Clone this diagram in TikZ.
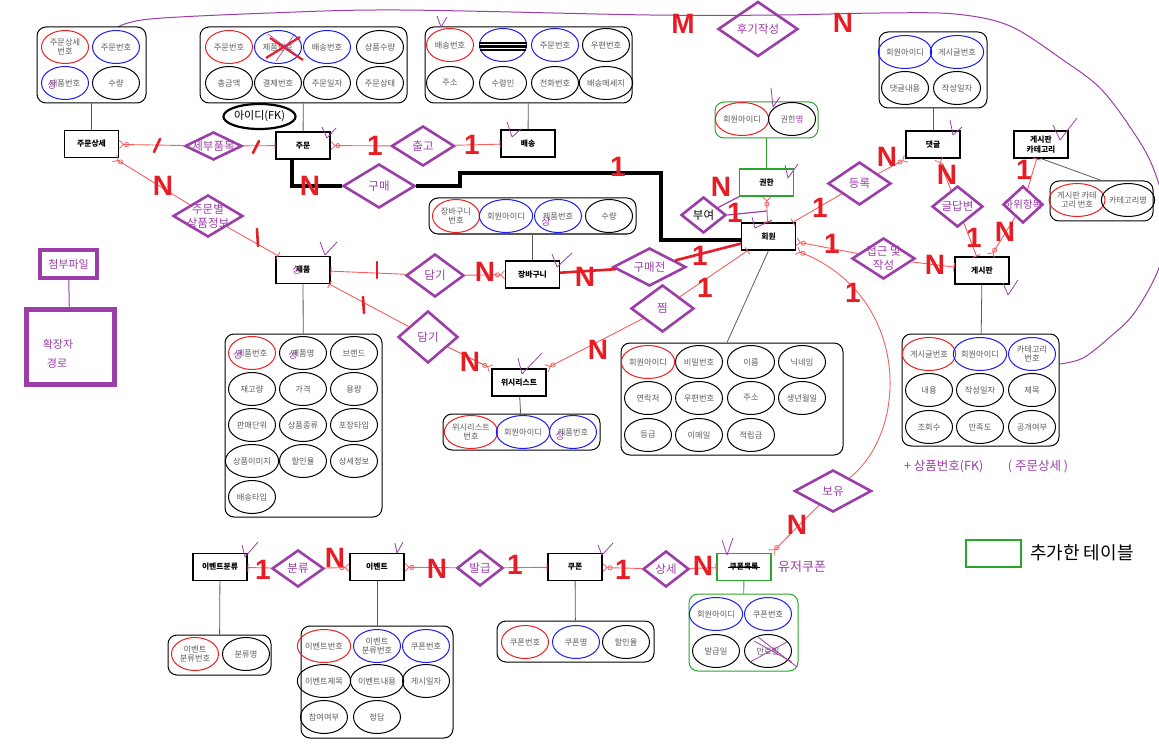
\documentclass[tikz,border=0pt]{standalone}
\usepackage{fontspec}
\setmainfont{Noto Sans CJK KR}
\newfontfamily\cardfont{Liberation Sans}
\usetikzlibrary{shapes.geometric,arrows.meta}
\definecolor{dpurple}{RGB}{155,62,168}
\definecolor{lred}{RGB}{242,96,96}
\definecolor{bred}{RGB}{232,28,36}
\definecolor{ered}{RGB}{236,32,32}
\definecolor{eblue}{RGB}{28,28,236}
\definecolor{dgreen}{RGB}{44,165,44}
\definecolor{agray}{RGB}{92,92,92}
\definecolor{lgray}{RGB}{90,90,90}
\tikzset{
  ent/.style={draw=black, line width=1.1pt, fill=white, minimum width=54pt, minimum height=27pt, inner sep=1pt, align=center, font=\fontsize{7.8}{9.2}\selectfont\bfseries},
  abox/.style={draw=black, line width=1pt, rounded corners=9pt, inner sep=0pt},
  att/.style={ellipse, draw=black, line width=1pt, minimum width=47pt, minimum height=33pt, inner sep=0pt, align=center, text=agray, font=\fontsize{8.2}{9.4}\selectfont},
  rdia/.style={diamond, draw=dpurple, line width=2.6pt, inner sep=0pt},
  rtext/.style={text=dpurple, align=center, inner sep=0pt, font=\fontsize{11.5}{14}\selectfont},
  cardn/.style={text=bred, inner sep=0pt, font=\cardfont\fontsize{28}{28}\selectfont\bfseries},
  rl/.style={draw=lred, line width=0.9pt},
  many/.style={-{Circle[open,length=5pt,width=5pt,line width=0.8pt] Straight Barb[reversed,length=4pt,width=8pt,line width=0.8pt]}},
  one/.style={-{Bar[width=8pt,line width=0.9pt]}},
  al/.style={draw=lgray, line width=0.8pt},
  pl/.style={draw=dpurple, line width=1pt},
  chk/.style={draw=dpurple, line width=0.8pt, line join=round},
  ov/.style={text=dpurple, inner sep=0pt, font=\fontsize{10}{10}\selectfont},
  buyline/.style={draw=black, line width=4pt},
  thickred/.style={draw=bred, line width=2.6pt},
  slashmark/.style={draw=bred, line width=2.6pt, line cap=round},
}
\newcommand\myatt[5]{\node[att,draw=#4] (#1) at (#2,#3) {#5};}
\newcommand\myrel[6]{\node[rdia,minimum width=#4pt,minimum height=#5pt] (#1) at (#2,#3) {};\node[rtext] (#1t) at (#2,#3) {#6};}
\newcommand\mycard[4]{\node[cardn] (#1) at (#2,#3) {#4};}
\begin{document}
\begin{tikzpicture}[x=1pt,y=-1pt]
\useasboundingbox (0,0) rectangle (1159,746);
\fill[white] (0,0) rectangle (1159,746);

% big purple curve
\draw[pl] plot[smooth,tension=0.55] coordinates {(118,27) (150,19) (270,13) (400,10) (650,15) (780,15) (880,13) (955,14) (1010,26) (1063,60) (1100,88) (1130,127) (1152,165) (1166,215) (1160,265) (1135,312) (1110,337) (1083,358) (1060,364)};

% attribute boxes
\node[abox,minimum width=109pt,minimum height=76pt] (jsA) at (91.5,65) {};
\node[abox,minimum width=207pt,minimum height=76pt] (jmA) at (303.5,65) {};
\node[abox,minimum width=207pt,minimum height=76pt] (bsA) at (528.5,65) {};
\node[abox,draw=dgreen,minimum width=103pt,minimum height=36pt] (ghA) at (766.5,120) {};
\node[abox,minimum width=108pt,minimum height=76pt] (dgA) at (933,70) {};
\node[abox,minimum width=103pt,minimum height=40pt] (gcA) at (1101.5,201) {};
\node[abox,minimum width=157pt,minimum height=112pt] (gsA) at (980.5,390) {};
\node[abox,minimum width=157pt,minimum height=183pt] (jpA) at (303.5,425.5) {};
\node[abox,minimum width=207pt,minimum height=36pt] (jbA) at (532.5,216) {};
\node[abox,minimum width=157pt,minimum height=36pt] (wlA) at (521.5,432) {};
\node[abox,minimum width=222pt,minimum height=112pt] (hwA) at (732,399) {};
\node[abox,minimum width=103pt,minimum height=40pt] (ecA) at (219.5,655) {};
\node[abox,minimum width=152pt,minimum height=112pt] (evA) at (377,682) {};
\node[abox,minimum width=157pt,minimum height=41pt] (cpA) at (575.5,641.5) {};
\node[abox,draw=dgreen,minimum width=109pt,minimum height=77pt] (clA) at (743.5,632.5) {};

% attributes
\myatt{a1}{65}{47}{ered}{주문상세\\번호}
\myatt{a2}{116}{47}{eblue}{주문번호}
\myatt{a3}{65}{83}{eblue}{제품번호}
\myatt{a4}{116}{83}{black}{수량}

\myatt{b1}{229}{47}{ered}{주문번호}
\myatt{b2}{278}{47}{eblue}{제품번호}
\myatt{b3}{327}{47}{eblue}{배송번호}
\myatt{b4}{380}{47}{black}{상품수량}
\myatt{b5}{229}{83}{black}{총금액}
\myatt{b6}{278}{83}{black}{결제번호}
\myatt{b7}{327}{83}{black}{주문일자}
\myatt{b8}{380}{83}{black}{주문상태}

\myatt{c1}{450}{45}{ered}{배송번호}
\myatt{c2}{503}{45}{eblue}{}
\myatt{c3}{555}{45}{eblue}{주문번호}
\myatt{c4}{606}{45}{black}{우편번호}
\myatt{c5}{450}{83}{black}{주소}
\myatt{c6}{503}{83}{black}{수령인}
\myatt{c7}{555}{83}{black}{전화번호}
\myatt{c8}{606}{83}{black}{배송메세지}

\myatt{d1}{742}{119}{ered}{회원아이디}
\myatt{d2}{792}{119}{black}{권한{\color{dpurple}명}}

\myatt{f1}{905}{52}{eblue}{회원아이디}
\myatt{f2}{957}{52}{eblue}{게시글번호}
\myatt{f3}{905}{88}{black}{댓글내용}
\myatt{f4}{957}{88}{black}{작성일자}

\myatt{g1}{1077}{200}{ered}{게시판 카테\\고리 번호}
\myatt{g2}{1128}{200}{black}{카테고리명}

\myatt{h1}{929}{354}{ered}{게시글번호}
\myatt{h2}{980}{354}{eblue}{회원아이디}
\myatt{h3}{1032}{354}{eblue}{카테고리\\번호}
\myatt{h4}{929}{390}{black}{내용}
\myatt{h5}{980}{390}{black}{작성일자}
\myatt{h6}{1032}{390}{black}{제목}
\myatt{h7}{929}{427}{black}{조회수}
\myatt{h8}{980}{427}{black}{만족도}
\myatt{h9}{1032}{427}{black}{공개여부}

\myatt{i1}{252}{353}{ered}{제품번호}
\myatt{i2}{303}{353}{black}{제품명}
\myatt{i3}{354}{353}{black}{브랜드}
\myatt{i4}{252}{389}{black}{재고량}
\myatt{i5}{303}{389}{black}{가격}
\myatt{i6}{354}{389}{black}{용량}
\myatt{i7}{252}{425}{black}{판매단위}
\myatt{i8}{303}{425}{black}{상품종류}
\myatt{i9}{354}{425}{black}{포장타입}
\myatt{i10}{252}{461}{black}{상품이미지}
\myatt{i11}{303}{461}{black}{할인율}
\myatt{i12}{354}{461}{black}{상세정보}
\myatt{i13}{252}{497}{black}{배송타입}

\myatt{j1}{456}{216}{ered}{장바구니\\번호}
\myatt{j2}{506}{216}{eblue}{회원아이디}
\myatt{j3}{558}{216}{eblue}{제품번호}
\myatt{j4}{609}{216}{black}{수량}

\myatt{k1}{471}{432}{ered}{위시리스트\\번호}
\myatt{k2}{523}{432}{eblue}{회원아이디}
\myatt{k3}{573}{432}{eblue}{제품번호}

\myatt{m1}{648}{362}{ered}{회원아이디}
\myatt{m2}{699}{362}{black}{비밀번호}
\myatt{m3}{751}{362}{black}{이름}
\myatt{m4}{802}{362}{black}{닉네임}
\myatt{m5}{648}{398}{black}{연락처}
\myatt{m6}{699}{398}{black}{우편번호}
\myatt{m7}{751}{398}{black}{주소}
\myatt{m8}{802}{398}{black}{생년월일}
\myatt{m9}{648}{435}{black}{등급}
\myatt{m10}{699}{435}{black}{이메일}
\myatt{m11}{751}{435}{black}{적립금}

\myatt{n1}{195}{654}{ered}{이벤트\\분류번호}
\myatt{n2}{246}{654}{black}{분류명}

\myatt{p1}{324}{646}{ered}{이벤트번호}
\myatt{p2}{377}{646}{eblue}{이벤트\\분류번호}
\myatt{p3}{426}{646}{eblue}{쿠폰번호}
\myatt{p4}{324}{681}{black}{이벤트제목}
\myatt{p5}{377}{681}{black}{이벤트내용}
\myatt{p6}{426}{681}{black}{게시일자}
\myatt{p7}{324}{717}{black}{참여여부}
\myatt{p8}{377}{717}{black}{정답}

\myatt{q1}{525}{642}{ered}{쿠폰번호}
\myatt{q2}{576}{642}{eblue}{쿠폰명}
\myatt{q3}{626}{642}{black}{할인율}

\myatt{r1}{716}{614}{eblue}{회원아이디}
\myatt{r2}{768}{614}{eblue}{쿠폰번호}
\myatt{r3}{716}{651}{black}{발급일}
\myatt{r4}{768}{651}{black}{만료일}

% scribbles and crossings
\draw[bred, line width=2.2pt] (266,58) -- (300,37);
\draw[bred, line width=2.2pt] (270,38) -- (303,60);
\draw[dpurple, line width=0.6pt] (268,34) -- (298,56);
\draw[dpurple, line width=0.6pt] (276,61) -- (294,35);
\draw[black, line width=2.2pt] (479,43) -- (527,43);
\draw[black, line width=2.2pt] (479,46.5) -- (527,46.5);
\draw[black, line width=2pt] (480,50) -- (526,50);
\draw[dpurple, line width=0.8pt] (750,662) -- (787,642);
\draw[dpurple, line width=0.8pt] (758,637) -- (797,667);
\draw[dpurple, line width=0.8pt] (754,641) -- (792,662);

% purple overlays
\node[ov] (ov1) at (52,85) {상};
\node[ov] (ov3) at (238,355) {상};
\node[ov] (ov4) at (293,355) {상};
\node[ov] (ov5) at (546,222) {상};
\node[ov] (ov6) at (560,436) {상};

% entities
\node[ent] (jsang) at (91.5,144) {주문상세};
\node[ent] (jm) at (303,145.5) {주문};
\node[ent] (bs) at (528,143.5) {배송};
\node[ent,draw=dgreen] (gh) at (766.5,182.5) {권한};
\node[ent] (hw) at (768.5,236.5) {회원};
\node[ent] (dg) at (933,144.5) {댓글};
\node[ent] (gc) at (1041,144.5) {게시판\\카테고리};
\node[ent] (gs) at (982,270.5) {게시판};
\node[ent] (jp) at (303,270) {제품};
\node[ent] (jb) at (532.5,274.5) {장바구니};
\node[ent] (wl) at (519,382.5) {위시리스트};
\node[ent] (ec) at (220,567) {이벤트분류};
\node[ent] (ev) at (377,567) {이벤트};
\node[ent] (cp) at (575,567) {쿠폰};
\node[ent,draw=dgreen] (cl) at (744,567) {쿠폰목록};
\draw[line width=0.8pt] ([xshift=-16pt]cl.center) -- ([xshift=16pt]cl.center);
\node[ov] (ov2) at (297,270) {상};

% entity to attribute lines
\draw[al] (jsang) -- (jsA);
\draw[al] (jm) -- (jmA);
\draw[al] (bs) -- (bsA);
\draw[al, draw=dgreen] (gh) -- (ghA);
\draw[al] (dg) -- (dgA);
\draw[al] (gc.south) -- (gcA.north);
\draw[al] (gs) -- (gsA);
\draw[al] (jp) -- (jpA);
\draw[al] (jb) -- (jbA);
\draw[al] (wl) -- (wlA);
\draw[al] (hw.south) -- ([xshift=-5pt]hwA.north);
\draw[al] (ec) -- (ecA);
\draw[al] (ev) -- (evA);
\draw[al] (cp) -- (cpA);
\draw[al, draw=dgreen] (cl) -- (clA);

% FK ellipse
\node[ellipse, draw=black, line width=2.2pt, minimum width=55pt, minimum height=25pt, inner sep=0pt, font=\fontsize{11}{12}\selectfont] (fkid) at (259.5,116.5) {아이디(FK)};

% relationships
\myrel{sb}{213.5}{146}{57}{28}{세부품목}
\myrel{cg}{423}{146}{63}{40}{출고}
\myrel{gm}{379}{186}{72}{44}{구매}
\myrel{jsp}{208}{216}{70}{42}{주문별\\상품정보}
\myrel{hg}{758}{29}{80}{55}{후기작성}
\node[rdia,minimum width=45pt,minimum height=36pt] (by) at (703.5,215) {};
\node[rtext,text=black] (byt) at (703.5,215) {부여};
\myrel{dr}{859.5}{183.5}{63}{43}{등록}
\myrel{gd}{957.5}{206.5}{51}{41}{글답변}
\myrel{hwi}{1023}{204.5}{40}{37}{{\fontsize{10.5}{12}\selectfont 하위항목}}
\myrel{jg}{883.5}{258.5}{63}{41}{접근 및\\작성}
\myrel{dma}{435}{275.5}{58}{43}{담기}
\myrel{gmj}{649.5}{267}{73}{38}{구매전}
\myrel{dmb}{428}{337}{60}{52}{담기}
\myrel{jjim}{662.5}{308.5}{63}{47}{찜}
\myrel{boyu}{833}{491}{77}{42}{보유}
\myrel{bl}{298}{568.5}{52}{37}{분류}
\myrel{bg}{480}{568}{46}{36}{발급}
\myrel{ss}{666}{569}{46}{36}{상세}

\coordinate (byj) at (767,211);

% connectors
\draw[rl, many] (sb) -- (jsang);
\draw[rl, one] (sb) -- (jm);
\draw[rl, many] (jsp) -- (jsang);
\draw[rl, one] (jsp) -- (jp);
\draw[rl, many] (cg) -- (jm);
\draw[rl, one] (cg) -- (bs);
\draw[buyline] ([xshift=-11pt]jm.south) |- (gm.west);
\draw[buyline] (gm.east) -- (460,186) |- (661,173) |- ([yshift=-3pt]hw.west);
\draw[rl, many] (byj) -- (gh);
\draw[rl, one] (byj) -- (hw);
\draw[pl, line width=1.2pt] (by) -- (gh);
\draw[pl, line width=1.2pt] (by.east) -- (byj);
\draw[rl, many] (dr) -- (dg);
\draw[rl, one] (dr) -- (hw);
\draw[rl, many] (gd) -- (dg);
\draw[rl, one] (gd) -- (gs);
\draw[rl, one] (hwi) -- (gc);
\draw[rl, many] (hwi) -- (gs);
\draw[rl, many] (jg) -- (hw);
\draw[rl, one] (jg) -- (gs);
\draw[rl, many] (boyu) .. controls (910,430) and (910,295) .. (hw.south east);
\draw[rl, many] (boyu) -- (cl.north east);
\draw[rl, one] (dma) -- (jp);
\draw[rl, many] (dma) -- (jb);
\draw[thickred] (gmj) -- (jb);
\draw[thickred] (gmj) -- (hw);
\draw[rl, one] (dmb) -- (jp);
\draw[rl, many] (dmb) -- (wl);
\draw[rl, many] (jjim) -- (wl);
\draw[rl, one] (jjim) -- (hw);
\draw[rl, one] (bl) -- (ec);
\draw[rl, many] (bl) -- (ev);
\draw[rl, many] (bg) -- (ev);
\draw[rl, one] (bg) -- (cp);
\draw[rl, many] (ss) -- (cp);
\draw[rl, one] (ss) -- (cl);

% cardinality marks
\draw[slashmark] (154,152) -- (160,139);
\draw[slashmark] (253,153) -- (259,141);
\draw[slashmark] (257,229) -- (258,246);
\draw[slashmark] (377,262) -- (377,278);
\draw[slashmark] (363,297) -- (364,313);
\mycard{cd1}{163}{186}{N}
\mycard{cd2}{375}{146}{1}
\mycard{cd3}{472}{145}{1}
\mycard{cd4}{310}{186}{N}
\mycard{cd5}{618}{167}{1}
\mycard{cd6}{683}{24}{M}
\mycard{cd7}{843}{23}{N}
\mycard{cd8}{721}{187}{N}
\mycard{cd9}{735}{213}{1}
\mycard{cd10}{820}{208}{1}
\mycard{cd11}{887}{157}{N}
\mycard{cd12}{947}{175}{N}
\mycard{cd13}{974}{238}{1}
\mycard{cd14}{1024}{170}{1}
\mycard{cd15}{1005}{232}{N}
\mycard{cd16}{832}{244}{1}
\mycard{cd17}{935}{265}{N}
\mycard{cd18}{853}{293}{1}
\mycard{cd19}{797}{525}{N}
\mycard{cd20}{485}{272}{N}
\mycard{cd21}{585}{277}{N}
\mycard{cd22}{700}{256}{1}
\mycard{cd23}{470}{362}{N}
\mycard{cd24}{598}{350}{N}
\mycard{cd25}{705}{288}{1}
\mycard{cd26}{263}{570}{1}
\mycard{cd27}{335}{558}{N}
\mycard{cd28}{437}{569}{N}
\mycard{cd29}{515}{565}{1}
\mycard{cd30}{623}{570}{1}
\mycard{cd31}{703}{566}{N}

% check marks
\draw[chk] (322,127) -- (327,138) -- (336,128);
\draw[chk] (507,122) -- (512,137) -- (521,129);
\draw[chk] (437,16) -- (441,27) -- (447,17);
\draw[chk] (771,88) -- (773,107) -- (780,97);
\draw[chk] (785,165) -- (788,178) -- (798,164);
\draw[chk] (950,120) -- (953,135) -- (962,127);
\draw[chk] (1053,125) -- (1060,140) -- (1077,118);
\draw[chk] (1003,283) -- (1008,295) -- (1018,280);
\draw[chk] (320,242) -- (325,255) -- (337,242);
\draw[chk] (552,254) -- (557,267) -- (572,253);
\draw[chk] (518,358) -- (522,374) -- (542,353);
\draw[chk] (752,217) -- (755,228) -- (772,220);
\draw[chk] (242,545) -- (245,557) -- (258,542);
\draw[chk] (395,543) -- (397,553) -- (403,542);
\draw[chk] (598,545) -- (602,555) -- (613,543);
\draw[chk] (722,540) -- (727,555) -- (733,538);

% attachment boxes
\node[draw=dpurple, line width=3.5pt, minimum width=57pt, minimum height=28pt, text=dpurple, inner sep=0pt, font=\fontsize{11}{12}\selectfont] (att1) at (68.5,264) {첨부파일};
\node[draw=dpurple, line width=5pt, minimum width=88pt, minimum height=75pt, inner sep=0pt] (att2) at (70,346.5) {};
\draw[pl] (att1) -- (att2);
\node[text=dpurple, inner sep=0pt, font=\fontsize{11}{12}\selectfont] (att2a) at (58,344) {확장자};
\node[text=dpurple, inner sep=0pt, font=\fontsize{11}{12}\selectfont] (att2b) at (57,363) {경로};

% free texts
\node[anchor=west, text=dpurple, inner sep=0pt, font=\fontsize{12.5}{14}\selectfont] (fk1) at (904,467) {+ 상품번호(FK)};
\node[text=dpurple, inner sep=0pt, font=\fontsize{12.5}{14}\selectfont] (fk2) at (1038,467) {(\ 주문상세\ )};
\node[anchor=west, text=dpurple, inner sep=0pt, font=\fontsize{13}{14}\selectfont] (uc) at (778,567) {유저쿠폰};

% legend
\node[draw=dgreen, line width=1.2pt, minimum width=55pt, minimum height=27pt, inner sep=0pt] (lg) at (993.5,553.5) {};
\node[anchor=west, inner sep=0pt, font=\fontsize{18}{20}\selectfont] (lgt) at (1030,553) {추가한 테이블};
\end{tikzpicture}
\end{document}
